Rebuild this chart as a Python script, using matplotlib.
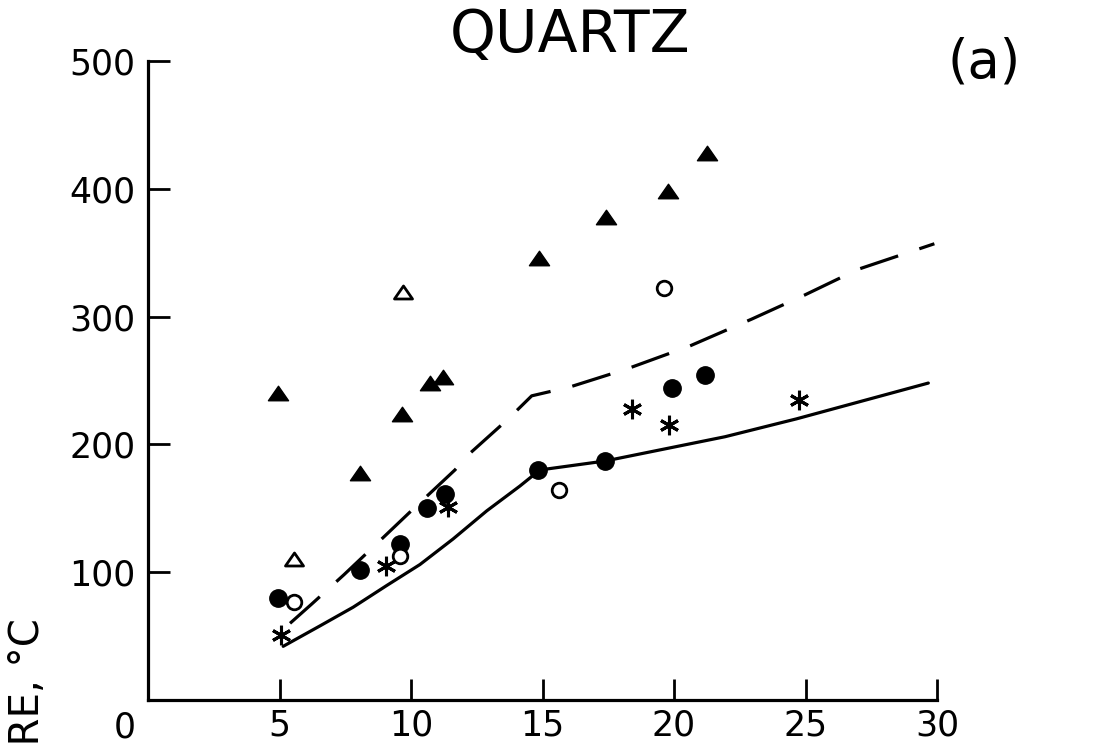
import matplotlib
matplotlib.use("Agg")
import matplotlib.pyplot as plt
from matplotlib.path import Path

# ---- data ----
filled_tri_x = [4.94, 8.06, 9.65, 10.72, 11.23, 14.88, 17.4, 19.78, 21.24]
filled_tri_y = [240, 178, 224, 248, 253, 346, 378, 398, 428]

open_tri_x = [5.56, 9.68]
open_tri_y = [110, 319]

filled_circ_x = [4.95, 8.06, 9.58, 10.62, 11.29, 14.83, 17.38, 19.91, 21.18]
filled_circ_y = [80, 102, 122, 150, 161, 180, 187, 244, 254]

open_circ_x = [5.56, 9.58, 15.63, 19.63]
open_circ_y = [77, 113, 164, 322]

star_x = [5.05, 9.05, 11.42, 18.39, 19.81, 24.76]
star_y = [51, 105, 151, 228, 215, 235]

solid_x = [5.14, 6.54, 7.8, 9.07, 10.34, 11.6, 12.88, 14.14, 14.9, 17.38, 21.94, 24.66, 29.67]
solid_y = [42, 58, 72.6, 89.5, 106, 126, 148, 167.4, 180, 187, 206, 220, 248]

dash_x = [5.4, 6.22, 7.45, 8.63, 10.06, 11.67, 12.24, 13.7, 14.59, 16.05, 18.2, 20.6, 22.95, 24.98, 27.0, 29.9]
dash_y = [60, 75, 98, 121, 149, 180, 193, 220, 238, 245, 259, 277, 298, 317, 337, 357]

xticks = [5, 10, 15, 20, 25, 30]
xtick_labels = ["5", "10", "15", "20", "25", "30"]
yticks = [100, 200, 300, 400, 500]
ytick_labels = ["100", "200", "300", "400", "500"]

title = "QUARTZ"
panel = "(a)"
ylabel = "TEMPERATURE, °C"

# ---- figure ----
W, H = 1095, 748
fig = plt.figure(figsize=(W / 100, H / 100), dpi=100)
left, right, top, bottom = 148, 937, 61, 700
ax = fig.add_axes([left / W, (H - bottom) / H, (right - left) / W, (bottom - top) / H])
ax.set_xlim(0, 30)
ax.set_ylim(0, 500)

for s in ["top", "right"]:
    ax.spines[s].set_visible(False)
for s in ["left", "bottom"]:
    ax.spines[s].set_linewidth(2.3)

tri = Path([(-1, -0.72), (1, -0.72), (0, 0.72), (-1, -0.72)],
           [Path.MOVETO, Path.LINETO, Path.LINETO, Path.CLOSEPOLY])

ax.plot(solid_x, solid_y, color="black", lw=2.3, solid_capstyle="round",
        solid_joinstyle="round")
dl, = ax.plot(dash_x, dash_y, color="black", lw=2.3)
dl.set_dashes((12.5, 7))

ax.plot(filled_tri_x, filled_tri_y, ls="none", marker=tri, ms=14.5,
        color="black", clip_on=False)
ax.plot(open_tri_x, open_tri_y, ls="none", marker=tri, ms=13,
        mfc="white", mec="black", mew=2.0, clip_on=False)
ax.plot(filled_circ_x, filled_circ_y, ls="none", marker="o", ms=12.5,
        color="black", clip_on=False)
ax.plot(open_circ_x, open_circ_y, ls="none", marker="o", ms=10.5,
        mfc="white", mec="black", mew=2.0, clip_on=False)
ax.plot(star_x, star_y, ls="none", marker=(6, 2, 0), ms=14,
        color="black", mew=2.2, clip_on=False)

fs = 25
ax.set_xticks(xticks)
ax.set_xticklabels(xtick_labels, fontsize=fs)
ax.set_yticks(yticks)
ax.set_yticklabels(ytick_labels, fontsize=fs)
ax.tick_params(axis="x", direction="in", length=15, width=2.0, pad=6)
ax.tick_params(axis="y", direction="in", length=16, width=2.0, pad=9)

# origin label
fig.text(125 / W, (H - 728) / H, "0", fontsize=fs, ha="center", va="center")

# title and panel label
fig.text(570 / W, (H - 36) / H, title, fontsize=42, ha="center", va="center")
fig.text(984 / W, (H - 63) / H, panel, fontsize=38, ha="center", va="center")

# y label (partially off-figure)
fig.text(28 / W, (H - 618) / H, ylabel, fontsize=29, rotation=90,
         ha="center", va="top")

fig.savefig("out.png", dpi=100)
